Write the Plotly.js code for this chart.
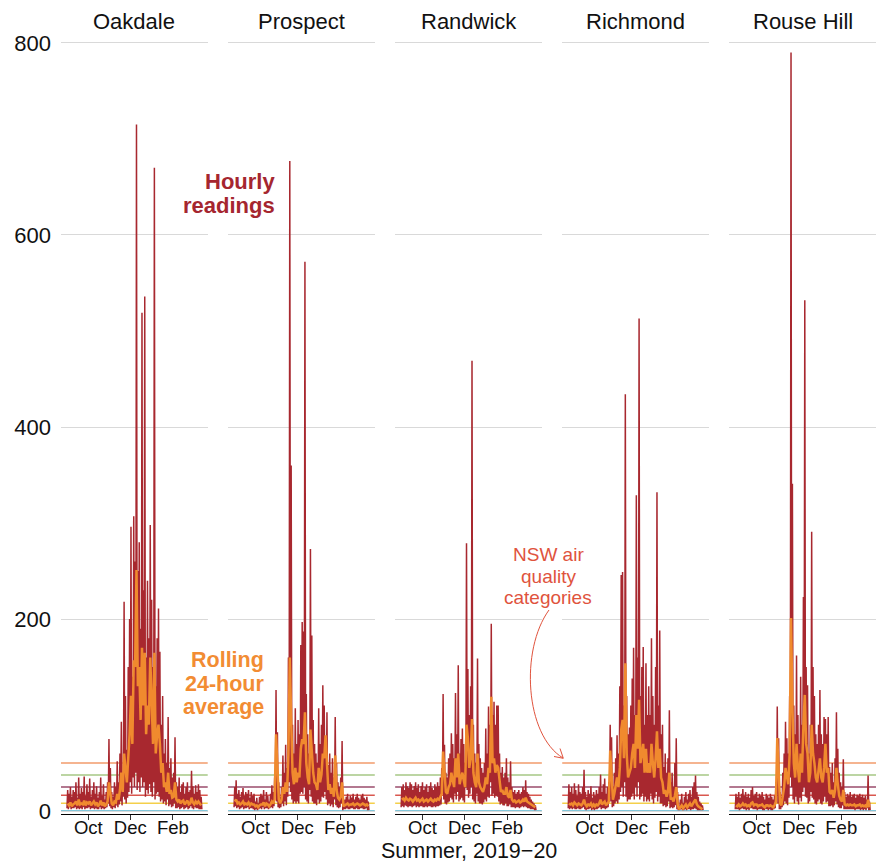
<!DOCTYPE html>
<html><head><meta charset="utf-8">
<script src="https://cdn.plot.ly/plotly-3.0.1.min.js"></script>
<style>html,body{margin:0;padding:0;background:#fff}</style>
</head><body><div id="chart" style="width:876px;height:863px"></div>
<script>
// ---- data (2-day bins starting 2019-08-31) ----
const stations = ['Oakdale', 'Prospect', 'Randwick', 'Richmond', 'Rouse Hill'];
const binStartUTC = [2019, 7, 31];
const binDays = 2;

const oakdalePeak = [22,18,25,15,22,20,30,14,35,18, 24,20,36,16,28,20,34,15,22,30, 18,26,14,20,35,16,28,12,20,30,
  75,45,20,15,30,25,52,30,60,93, 40,218,120,64,150,200,296,140,307,260, 715,250,280,190,519,230,536,160,240,180,
  298,220,150,670,130,180,211,166,90,120, 60,75,50,98,45,55,35,40,77,30, 25,35,20,28,30,18,25,30,20,22, 42,26,18,27,20,28,22,15];
const oakdaleLow = [3,2,4,2,3,3,4,2,3,2,3,2,4,2,3,3,4,2,3,3,2,3,2,2,4,2,3,2,3,4,
  8,5,3,2,4,3,6,4,7,10,6,
  15,12,8,14,20,30,18,35,25,40,22,30,20,35,25,30,15,22,18,28,20,15,30,12,18,20,15,10,12,8,
  10,6,12,5,7,4,5,8,3,3,4,2,3,4,2,3,4,2,3,5,3,2,4,3,3,2,2];
const oakdaleAvg = [8,6,9,5,7,8,10,6,12,7, 8,7,11,6,9,8,10,6,8,10, 7,9,5,7,11,6,9,5,7,10,
  30,18,8,6,10,9,18,12,22,40, 20,60,45,30,55,80,120,70,157,150, 251,130,150,95,170,110,165,80,110,90,
  160,120,70,165,60,80,90,70,40,50, 25,30,20,40,18,22,14,15,30,12, 10,12,8,10,11,7,9,11,7,8, 14,9,7,10,8,10,8,6];

const prospectPeak = [25,32,18,22,15,20,24,16,20,18, 22,14,20,16,18,10,14,8,15,18, 16,22,12,20,16,10,18,27,20,35,
  126,82,30,15,25,58,40,69,45,160, 677,360,90,60,107,70,95,80,173,197, 187,572,122,80,60,273,183,95,70,60,
  50,107,70,90,131,110,75,103,48,60, 40,55,35,98,50,30,25,35,73,10, 12,15,18,12,16,14,18,12,15,18, 14,12,16,18,14,12,15,10];
const prospectLow = [4,5,3,4,2,3,4,2,3,3,4,2,3,3,2,1,2,1,2,3,2,4,2,3,3,2,3,4,3,5,
  20,10,4,3,4,8,5,10,6,15,30,
  20,12,8,10,8,10,8,18,20,18,25,12,10,8,22,15,10,8,8,6,12,8,10,15,14,20,12,6,8,5,
  7,4,12,6,4,3,4,8,1,2,2,3,2,2,3,3,2,2,3,2,2,3,3,2,2,3,1];
const prospectAvg = [10,12,8,9,7,8,10,7,8,7, 9,6,8,7,7,5,6,4,6,7, 7,9,5,8,7,5,7,10,8,12,
  80,35,12,8,12,25,18,30,20,60, 160,95,40,28,45,30,40,35,65,75, 70,103,50,35,28,85,60,40,30,28,
  22,45,30,38,60,55,79,45,22,28, 18,24,15,58,22,14,12,15,30,5, 6,7,8,6,7,7,8,6,7,8, 7,6,7,8,7,6,7,5];

const randwickPeak = [25,28,22,30,26,24,30,28,22,26, 30,24,28,20,26,30,22,25,28,20, 26,30,24,22,28,25,30,26,35,45,
  122,69,40,35,55,60,81,70,55,123, 80,152,60,75,86,70,50,279,148,100, 130,469,90,60,50,159,70,55,45,40,
  50,86,60,109,90,195,100,114,90,110, 110,60,40,46,35,40,55,35,30,52, 25,20,22,18,20,22,18,20,25,22, 32,20,18,15,12,10,8,6];
const randwickLow = [4,5,4,6,5,4,5,5,4,5,6,4,5,4,5,5,4,4,5,4,5,5,4,4,5,4,5,5,6,7,
  18,12,8,7,9,10,14,12,9,18,12,
  20,10,12,14,11,9,25,22,14,18,25,12,10,8,18,10,8,8,7,9,12,10,15,14,30,16,18,14,16,15,
  10,7,8,6,6,8,5,5,7,4,4,4,3,4,4,3,4,5,4,5,4,3,3,2,2,2,1];
const randwickAvg = [12,13,11,14,12,11,13,12,10,12, 14,11,12,10,12,13,10,11,12,10, 12,13,11,10,12,11,13,12,15,18,
  62,35,20,18,25,28,40,32,25,55, 35,60,28,35,40,32,25,90,76,45, 55,96,40,30,25,60,30,25,22,20,
  25,35,28,45,40,119,50,55,40,48, 45,28,20,22,18,18,25,16,14,22, 12,10,11,9,10,11,9,10,12,10, 14,10,9,8,7,6,5,4];

const richmondPeak = [28,20,25,18,29,22,16,28,20,18, 25,43,20,15,22,18,26,14,20,16, 22,18,25,38,20,28,34,18,25,30,
  90,77,25,40,55,79,60,130,246,249, 110,434,120,80,87,110,138,170,100,329, 160,513,120,150,171,90,154,100,130,100,
  180,120,90,150,332,110,188,80,90,46, 60,40,55,105,30,40,25,50,76,20, 5,12,18,8,15,20,12,18,22,15, 25,30,37,20,15,10,8,6];
const richmondLow = [3,2,3,2,3,2,2,3,2,2,3,4,2,1,2,2,3,1,2,1,2,2,3,4,2,3,3,2,3,4,
  15,10,4,5,8,10,8,12,20,25,15,
  30,15,10,12,12,15,18,12,25,15,30,12,15,18,10,15,10,12,10,18,12,8,14,20,10,15,8,8,5,6,
  4,5,10,3,4,3,4,6,2,1,1,2,1,1,2,1,2,2,1,2,2,3,2,1,1,1,1];
const richmondAvg = [8,7,8,6,9,7,6,8,7,6, 8,12,7,5,7,6,8,5,7,5, 7,6,8,12,7,9,10,6,8,10,
  63,35,12,18,25,35,25,45,85,95, 55,154,60,35,40,45,60,70,45,100, 65,116,50,60,70,40,65,40,50,40,
  70,50,35,55,83,45,65,35,30,18, 22,15,20,40,12,14,10,16,25,7, 2,4,6,3,5,7,4,6,8,5, 8,10,12,7,5,4,3,2];

const rouseHillPeak = [18,15,20,14,18,23,16,20,15,18, 14,22,25,16,18,20,14,18,16,20, 15,12,18,16,14,18,15,12,16,30,
  109,76,20,15,40,60,93,76,60,120, 790,341,110,80,162,100,70,140,90,223, 532,150,131,60,90,291,150,120,80,70,
  90,126,80,70,98,96,80,98,46,40, 50,30,55,103,65,40,30,25,54,20, 15,18,16,20,15,17,18,14,17,16, 18,15,17,14,16,12,37,10];
const rouseHillLow = [2,2,2,1,2,3,2,2,1,2,1,3,3,2,2,2,1,2,2,2,1,1,2,2,1,2,1,1,2,3,
  18,8,2,2,4,6,10,8,6,14,35,
  25,12,8,15,10,7,14,10,20,25,15,14,8,10,20,14,12,8,7,10,12,8,7,10,15,9,10,5,5,6,
  4,6,10,7,4,3,3,6,2,2,2,2,2,2,2,2,1,2,2,2,1,2,1,2,1,3,1];
const rouseHillAvg = [6,5,7,5,6,8,6,7,5,6, 5,8,9,6,7,7,5,6,6,7, 5,4,6,6,5,6,5,4,6,10,
  76,30,8,6,15,25,45,35,28,60, 201,110,50,35,70,45,30,60,40,90, 121,70,60,30,40,90,60,50,35,30,
  40,55,35,30,45,70,40,45,20,18, 22,14,22,45,28,16,12,10,22,7, 6,7,6,7,6,6,7,5,6,6, 7,5,6,5,6,4,12,4];

const categoryLevels = [0, 8.3, 16.6, 25, 37.5, 50];
const yTickVals = [0, 200, 400, 600, 800];
const xTickVals = ['2019-10-01', '2019-12-01', '2020-02-01'];
const xTickText = ['Oct', 'Dec', 'Feb'];
const xRange = ['2019-08-22 07:00', '2020-03-22 12:00'];

// ---- styling ----
const categoryColors = ['#58b3cc', '#f4cf4a', '#d9574f', '#9a4b6b', '#a6c785', '#f29b6b'];
const hourlyColor = '#a8282f';
const avgColor = '#f08a2e';
const font = 'Liberation Sans, Arial, Helvetica, sans-serif';

const series = [
  [oakdalePeak, oakdaleLow, oakdaleAvg],
  [prospectPeak, prospectLow, prospectAvg],
  [randwickPeak, randwickLow, randwickAvg],
  [richmondPeak, richmondLow, richmondAvg],
  [rouseHillPeak, rouseHillLow, rouseHillAvg]
];

function dayStr(offset) {
  const t = Date.UTC(binStartUTC[0], binStartUTC[1], binStartUTC[2]) + offset * 864e5;
  return new Date(t).toISOString().slice(0, 10);
}

const W = 0.18, G = 0.025;
const data = [];
const layout = {
  width: 876, height: 863,
  margin: {l: 61, r: 0, t: 40, b: 49},
  paper_bgcolor: '#fff', plot_bgcolor: '#fff',
  showlegend: false,
  font: {family: font, color: '#111'},
  shapes: [], annotations: []
};

stations.forEach((name, i) => {
  const s = i === 0 ? '' : String(i + 1);
  const [peak, low, avg] = series[i];
  const n = Math.min(peak.length, low.length, avg.length);
  const hx = [], hy = [], ax = [], ay = [];
  for (let k = 0; k < n; k++) {
    hx.push(dayStr(k * binDays)); hy.push(low[k]);
    hx.push(dayStr(k * binDays + 1)); hy.push(peak[k]);
    ax.push(dayStr(k * binDays + 1)); ay.push(avg[k]);
  }
  hx.push(dayStr(n * binDays)); hy.push(low[n - 1]);
  data.push({x: hx, y: hy, xaxis: 'x' + s, yaxis: 'y' + s, type: 'scatter', mode: 'lines',
    line: {color: hourlyColor, width: 1.5}, hoverinfo: 'skip'});
  data.push({x: ax, y: ay, xaxis: 'x' + s, yaxis: 'y' + s, type: 'scatter', mode: 'lines',
    line: {color: avgColor, width: 2.5}, hoverinfo: 'skip'});

  const d0 = i * (W + G);
  layout['xaxis' + s] = {
    domain: [d0, d0 + W], anchor: 'y' + s, type: 'date', range: xRange,
    tickvals: xTickVals, ticktext: xTickText, ticks: 'outside', ticklen: 5, tickcolor: '#333',
    showline: true, linecolor: '#000', linewidth: 1, showgrid: false, zeroline: false,
    ticklabelstandoff: -8,
    tickfont: {family: font, size: 18.5, color: '#111'}, fixedrange: true
  };
  layout['yaxis' + s] = {
    domain: [0, 1], anchor: 'x' + s, range: [-3, 803], tickvals: yTickVals,
    showticklabels: i === 0, ticks: '', showline: false, zeroline: false,
    showgrid: true, gridcolor: '#d9d9d9', gridwidth: 1,
    tickfont: {family: font, size: 22, color: '#111'}, ticklabelstandoff: 9, fixedrange: true
  };
  categoryLevels.forEach((v, j) => {
    layout.shapes.push({type: 'line', xref: 'x' + s + ' domain', x0: 0, x1: 1,
      yref: 'y' + s, y0: v, y1: v, layer: 'below',
      line: {color: categoryColors[j], width: 1.5}});
  });
  layout.annotations.push({text: name, xref: 'paper', yref: 'paper', x: d0 + W / 2, y: 1.0245,
    xanchor: 'center', yanchor: 'middle', showarrow: false, font: {family: font, size: 22, color: '#111'}});
});

// annotation positions (pixel -> paper)
const PX = p => (p - 61) / 815;
const PY = p => (814 - p) / 774;
function label(text, x, y, anchor, size, color, bold) {
  layout.annotations.push({text: bold ? '<b>' + text + '</b>' : text, xref: 'paper', yref: 'paper',
    x: PX(x), y: PY(y), xanchor: anchor, yanchor: 'middle', showarrow: false,
    font: {family: font, size: size, color: color}});
}
label('Hourly', 277, 181, 'right', 22, '#a5262f', true);
label('readings', 277, 205, 'right', 22, '#a5262f', true);
label('Rolling', 266, 660, 'right', 21.5, '#f28c33', true);
label('24-hour', 266, 683.5, 'right', 21.5, '#f28c33', true);
label('average', 266, 707, 'right', 21.5, '#f28c33', true);
label('NSW air', 548, 554, 'center', 19, '#e0533d', false);
label('quality', 548, 576, 'center', 19, '#e0533d', false);
label('categories', 548, 597, 'center', 19, '#e0533d', false);
label('Summer, 2019\u221220', 468.5, 850.5, 'center', 21.5, '#111', false);

const P = (x, y) => PX(x).toFixed(5) + ',' + PY(y).toFixed(5);
layout.shapes.push({type: 'path', xref: 'paper', yref: 'paper',
  path: 'M' + P(549, 610) + ' C' + P(520, 650) + ' ' + P(525, 735) + ' ' + P(563, 758),
  line: {color: '#e0533d', width: 1}});
layout.shapes.push({type: 'path', xref: 'paper', yref: 'paper',
  path: 'M' + P(554, 756.5) + ' L' + P(563.3, 758.3) + ' L' + P(560, 748.5),
  line: {color: '#e0533d', width: 1}});

Plotly.newPlot('chart', data, layout, {displayModeBar: false, staticPlot: true});
</script>
</body></html>
